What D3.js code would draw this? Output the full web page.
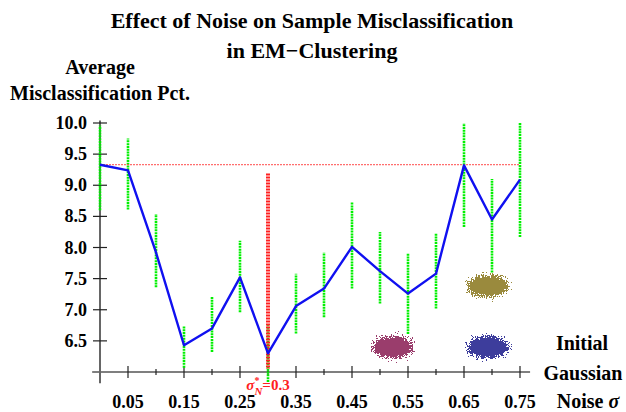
<!DOCTYPE html>
<html>
<head>
<meta charset="utf-8">
<script src="https://cdn.jsdelivr.net/npm/d3@7"></script>
<style>
  body{margin:0;background:#fff;}
  svg{display:block;font-family:"Liberation Serif","Times New Roman",serif;font-weight:bold;}
</style>
</head>
<body>
<svg id="canvas" width="626" height="412"></svg>
<script>
// noise levels (x) and average misclassification (blue line)
let noise=[0,0.05,0.1,0.15,0.2,0.25,0.3,0.35,0.4,0.45,0.5,0.55,0.6,0.65,0.7,0.75];
let avgPct=[9.33,9.24,7.92,6.43,6.70,7.52,6.30,7.06,7.34,8.01,7.62,7.26,7.58,9.32,8.45,9.09];
// spread of the per-run results (green dotted columns)
let runLow=[8.60,8.61,7.36,6.07,6.32,6.96,5.84,6.62,6.88,7.34,7.10,6.61,7.02,8.33,7.60,8.17];
let runHigh=[9.96,9.75,8.54,6.73,7.22,8.11,6.75,7.58,7.92,8.73,8.25,7.90,8.22,10.0,9.10,10.0];
let baseline=9.33;           // red dashed reference at sigma=0
let bestSigma=0.3, bestTop=9.19, bestBottom=6.05;
let yTicks=[6.5,7.0,7.5,8.0,8.5,9.0,9.5,10.0];
let xLabels=[0.05,0.15,0.25,0.35,0.45,0.55,0.65,0.75];
let xMinor=[0.1,0.2,0.3,0.4,0.5,0.6,0.7];
// the three gaussian clusters drawn as insets
let blobNames=["magenta","blue","olive"];
let blobX=[0.523,0.693,0.693];
let blobY=[6.40,6.40,7.38];
let blobColor=["#9a3c6c","#3c3c9c","#9a8a3c"];

let canvas=d3.select("#canvas");
let x=d3.scaleLinear().domain([0,0.75]).range([100,520]);
let y=d3.scaleLinear().domain([6,10]).range([372,123]);

// filter for speckled blob edges
let defs=canvas.append("defs");
blobNames.forEach((name,i)=>{
    let f=defs.append("filter").attr("id","sp-"+name)
        .attr("x","-60%").attr("y","-60%").attr("width","220%").attr("height","220%");
    f.append("feTurbulence").attr("type","turbulence").attr("baseFrequency","1.2")
        .attr("numOctaves",1).attr("seed",i+2).attr("result","n");
    f.append("feGaussianBlur").attr("in","SourceAlpha").attr("stdDeviation",6).attr("result","b");
    f.append("feComposite").attr("in","b").attr("in2","n").attr("operator","arithmetic")
        .attr("k2",1.5).attr("k3",1.4).attr("k4",-0.72).attr("result","m");
    let ct=f.append("feComponentTransfer").attr("in","m").attr("result","mask");
    ct.append("feFuncA").attr("type","discrete").attr("tableValues","0 1");
    f.append("feFlood").attr("flood-color",blobColor[i]).attr("result","c");
    f.append("feComposite").attr("in","c").attr("in2","mask").attr("operator","in");
});

canvas.selectAll(".blob")
    .data(blobNames)
    .enter()
    .append("ellipse")
    .attr("class","blob")
    .attr("cx",(d,i)=>x(blobX[i]))
    .attr("cy",(d,i)=>y(blobY[i]))
    .attr("rx",25)
    .attr("ry",14)
    .attr("fill","#000")
    .attr("filter",d=>"url(#sp-"+d+")");

// axes
canvas.append("line")
    .attr("x1",x(-0.014)).attr("x2",x(0.768))
    .attr("y1",y(6)).attr("y2",y(6))
    .attr("stroke","#000").attr("stroke-width",1.2);
canvas.append("line")
    .attr("x1",x(0)).attr("x2",x(0))
    .attr("y1",y(10.04)).attr("y2",y(5.82))
    .attr("stroke","#666").attr("stroke-width",2);

canvas.selectAll(".ytick")
    .data(yTicks)
    .enter()
    .append("line")
    .attr("x1",x(0)-7).attr("x2",x(0)+7)
    .attr("y1",d=>y(d)).attr("y2",d=>y(d))
    .attr("stroke","#222").attr("stroke-width",1.2);
canvas.selectAll(".ylab")
    .data(yTicks)
    .enter()
    .append("text")
    .attr("x",87).attr("y",d=>y(d)+6)
    .attr("text-anchor","end")
    .attr("font-size",18)
    .text(d=>d.toFixed(1));

canvas.selectAll(".xtick")
    .data(xLabels)
    .enter()
    .append("line")
    .attr("x1",d=>x(d)).attr("x2",d=>x(d))
    .attr("y1",y(6)-6).attr("y2",y(6)+6)
    .attr("stroke","#222").attr("stroke-width",1.2);
canvas.selectAll(".xminor")
    .data(xMinor)
    .enter()
    .append("line")
    .attr("x1",d=>x(d)).attr("x2",d=>x(d))
    .attr("y1",y(6)-3).attr("y2",y(6)+3)
    .attr("stroke","#222").attr("stroke-width",1.2);
canvas.selectAll(".xlab")
    .data(xLabels)
    .enter()
    .append("text")
    .attr("x",d=>x(d)).attr("y",408)
    .attr("text-anchor","middle")
    .attr("font-size",18)
    .text(d=>d.toFixed(2));

// green run spreads
canvas.selectAll(".runs")
    .data(noise)
    .enter()
    .append("line")
    .attr("x1",d=>x(d)).attr("x2",d=>x(d))
    .attr("y1",(d,i)=>y(runLow[i])).attr("y2",(d,i)=>y(runHigh[i]))
    .attr("stroke","#00f000")
    .attr("stroke-width",2.6)
    .attr("stroke-dasharray","2,0.8");

// red references
canvas.append("line")
    .attr("x1",x(0)).attr("x2",x(0.75))
    .attr("y1",y(baseline)).attr("y2",y(baseline))
    .attr("stroke","#ff4a4a").attr("stroke-width",1)
    .attr("stroke-dasharray","2,1");
canvas.append("line")
    .attr("x1",x(bestSigma)).attr("x2",x(bestSigma))
    .attr("y1",y(bestTop)).attr("y2",y(bestBottom))
    .attr("stroke","#ff2020").attr("stroke-width",4)
    .attr("stroke-dasharray","2,1");

// blue average line
let line=d3.line().x(d=>x(d)).y((d,i)=>y(avgPct[i]));
canvas.append("path")
    .datum(noise)
    .attr("d",line)
    .attr("fill","none")
    .attr("stroke","#1010f0")
    .attr("stroke-width",2.4)
    .attr("stroke-linejoin","round");

// sigma_N* label
let sl=canvas.append("text")
    .attr("x",x(bestSigma)).attr("y",390)
    .attr("text-anchor","middle")
    .attr("font-size",15)
    .attr("fill","#ff2020");
sl.append("tspan").attr("font-style","italic").text("σ");
sl.append("tspan").attr("font-size",10).attr("dy",-6).text("*");
sl.append("tspan").attr("font-size",11).attr("font-style","italic").attr("dx",-5).attr("dy",11).text("N");
sl.append("tspan").attr("dy",-5).text("=0.3");

// titles
canvas.append("text").attr("x",312).attr("y",28).attr("text-anchor","middle")
    .attr("font-size",22).text("Effect of Noise on Sample Misclassification");
canvas.append("text").attr("x",312).attr("y",58).attr("text-anchor","middle")
    .attr("font-size",22).text("in EM\u2212Clustering");
canvas.append("text").attr("x",100).attr("y",74).attr("text-anchor","middle")
    .attr("font-size",20).text("Average");
canvas.append("text").attr("x",100).attr("y",100).attr("text-anchor","middle")
    .attr("font-size",20).text("Misclassification Pct.");
canvas.append("text").attr("x",582).attr("y",350).attr("text-anchor","middle")
    .attr("font-size",20).text("Initial");
canvas.append("text").attr("x",583).attr("y",380).attr("text-anchor","middle")
    .attr("font-size",20).text("Gaussian");
let nl=canvas.append("text").attr("x",588).attr("y",408).attr("text-anchor","middle")
    .attr("font-size",20);
nl.append("tspan").text("Noise ");
nl.append("tspan").attr("font-style","italic").text("σ");
</script>
</body>
</html>
